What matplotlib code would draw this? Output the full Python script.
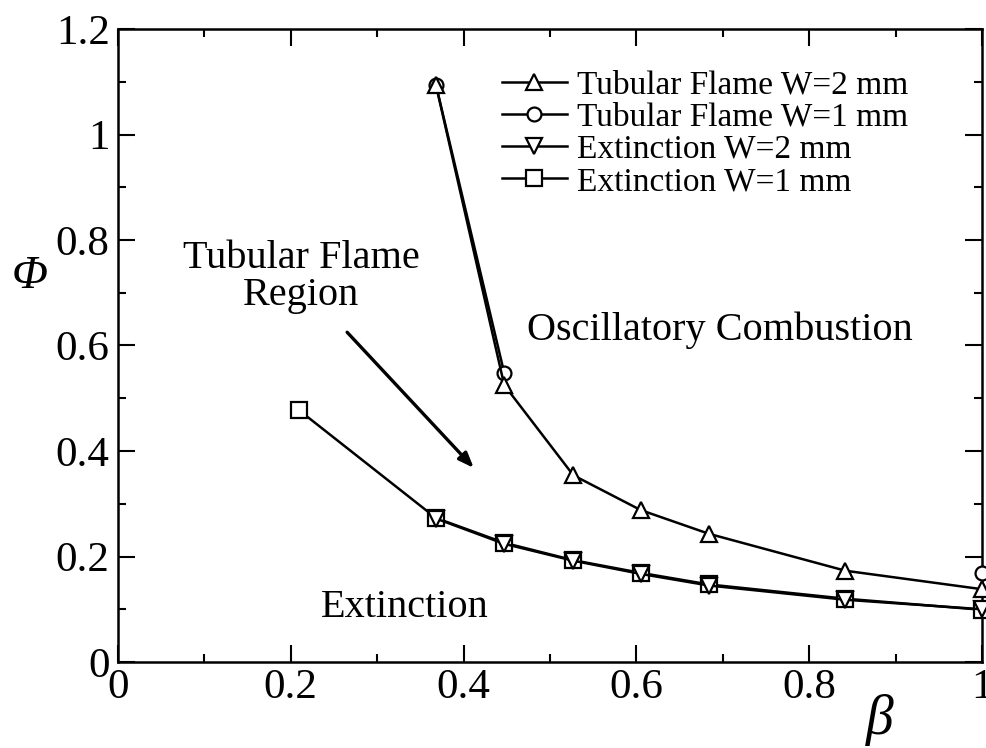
import matplotlib
matplotlib.use("Agg")
import matplotlib.pyplot as plt
import numpy as np
from matplotlib.lines import Line2D

plt.rcParams['font.family'] = ['Liberation Serif', 'DejaVu Serif']

# data
beta = [0.368, 0.447, 0.527, 0.605, 0.684, 0.842, 1.0]
phi_tube_w2 = [1.094, 0.525, 0.354, 0.288, 0.243, 0.173, 0.138]

beta_tube_w1 = [0.368, 0.447, 1.0]
phi_tube_w1 = [1.094, 0.548, 0.169]

phi_ext_w2 = [0.272, 0.224, 0.192, 0.167, 0.145, 0.118, 0.100]

beta_ext_w1 = [0.209, 0.368, 0.447, 0.527, 0.605, 0.684, 0.842, 1.0]
phi_ext_w1 = [0.478, 0.273, 0.226, 0.193, 0.169, 0.147, 0.120, 0.099]

labels = ["Tubular Flame W=2 mm", "Tubular Flame W=1 mm",
          "Extinction W=2 mm", "Extinction W=1 mm"]

fig = plt.figure(figsize=(9.87, 7.48), dpi=100)
ax = fig.add_axes([118/987, 86/748, (982-118)/987, (662-29)/748])

mk = dict(color='black', mfc='white', mec='black', mew=1.6, clip_on=False)
ax.plot(beta_tube_w1[:2], phi_tube_w1[:2], '-', color='black', lw=1.8, zorder=2)
ax.plot(beta_tube_w1, phi_tube_w1, 'o', ms=10, zorder=3, **mk)
ax.plot(beta, phi_tube_w2, '-^', lw=1.8, ms=12, zorder=4, **mk)
ax.plot(beta_ext_w1, phi_ext_w1, '-s', lw=1.8, ms=11, zorder=3, **mk)
ax.plot(beta, phi_ext_w2, '-v', lw=1.8, ms=12, zorder=4, **mk)

ax.set_xlim(0, 1)
ax.set_ylim(0, 1.2)
ax.set_xticks(np.arange(0, 1.01, 0.2))
ax.set_xticklabels(['0', '0.2', '0.4', '0.6', '0.8', '1'])
ax.set_yticks(np.arange(0, 1.21, 0.2))
ax.set_yticklabels(['0', '0.2', '0.4', '0.6', '0.8', '1', '1.2'])
ax.set_xticks(np.arange(0, 1.01, 0.1), minor=True)
ax.set_yticks(np.arange(0, 1.21, 0.1), minor=True)
ax.tick_params(which='both', direction='in', top=True, right=True, width=1.5, labelsize=31)
ax.tick_params(which='major', length=12)
ax.tick_params(which='minor', length=6)
ax.tick_params(axis='x', pad=5)
ax.tick_params(axis='y', pad=6)
for s in ax.spines.values():
    s.set_linewidth(1.8)

ax.text(-0.102, 0.73, 'Φ', fontsize=34, style='italic',
        ha='center', va='center', clip_on=False)
ax.text(0.882, -0.11, 'β', fontsize=40, style='italic', ha='center', va='center', clip_on=False)

ax.text(0.212, 0.73, 'Tubular Flame\nRegion', fontsize=29, ha='center', va='center',
        linespacing=1.0)
ax.annotate('', xy=(0.414, 0.364), xytext=(0.263, 0.629),
            arrowprops=dict(arrowstyle='-|>,head_length=0.9,head_width=0.35',
                            color='black', lw=2.4))
ax.text(0.473, 0.628, 'Oscillatory Combustion', fontsize=29, ha='left', va='center')
ax.text(0.332, 0.104, 'Extinction', fontsize=29, ha='center', va='center')

handles = [
    Line2D([], [], color='black', lw=1.8, marker='^', ms=11, mfc='white', mew=1.6),
    Line2D([], [], color='black', lw=1.8, marker='o', ms=10, mfc='white', mew=1.6),
    Line2D([], [], color='black', lw=1.8, marker='v', ms=11, mfc='white', mew=1.6),
    Line2D([], [], color='black', lw=1.8, marker='s', ms=11, mfc='white', mew=1.6),
]
ax.legend(handles, labels, loc='upper left', bbox_to_anchor=(0.444, 0.935),
          frameon=False, fontsize=24, handlelength=1.95, handletextpad=0.3,
          labelspacing=0.05, borderpad=0.0, borderaxespad=0.0)

fig.savefig('out.png', dpi=100)
